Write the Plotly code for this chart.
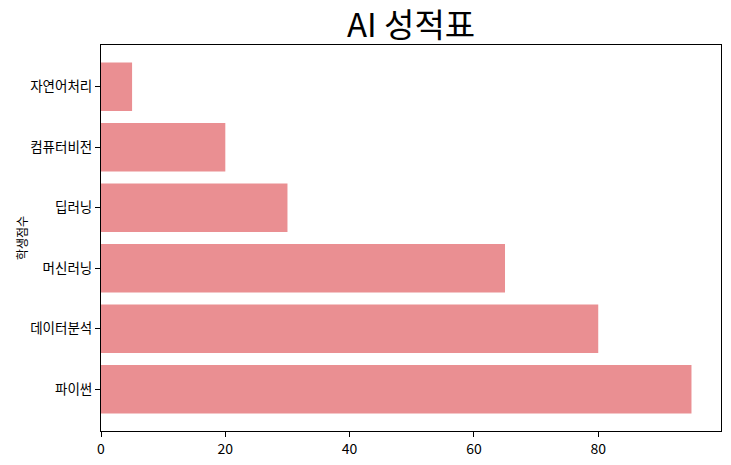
import plotly.graph_objects as go

categories = ["파이썬", "데이터분석", "머신러닝", "딥러닝", "컴퓨터비전", "자연어처리"]
scores = [95, 80, 65, 30, 20, 5]
x_ticks = [0, 20, 40, 60, 80]

FONT = "Noto Sans CJK KR"
positions = list(range(len(categories)))

fig = go.Figure(go.Bar(
    x=scores, y=positions, orientation="h", width=0.8,
    marker=dict(color="#EA8F92", line=dict(width=0)),
    hoverinfo="skip",
))

fig.update_layout(
    width=731, height=465,
    margin=dict(l=101, r=10, t=45, b=34, autoexpand=False),
    plot_bgcolor="white", paper_bgcolor="white",
    font=dict(family=FONT, size=13, color="black"),
    showlegend=False,
    title=dict(text="AI 성적표", x=(101 + 721) / 2 / 731, xanchor="center",
               y=1 - 25 / 465, yanchor="middle",
               font=dict(family=FONT, size=33, color="black")),
    annotations=[dict(
        text="학생점수", textangle=-90, xref="paper", yref="paper",
        x=-80 / 620, y=0.5, xanchor="center", yanchor="middle",
        showarrow=False, font=dict(family=FONT, size=12, color="black"),
    )],
)
fig.update_xaxes(
    range=[0, 99.75], tickvals=x_ticks, ticktext=[str(v) for v in x_ticks],
    showgrid=False, zeroline=False, showline=True, mirror=True,
    linecolor="black", linewidth=1, ticks="outside", ticklen=5,
    tickcolor="black", tickfont=dict(family=FONT, size=14), automargin=False,
)
fig.update_yaxes(
    range=[-0.69, 5.69], tickvals=positions, ticktext=categories,
    showgrid=False, zeroline=False, showline=True, mirror=True,
    linecolor="black", linewidth=1, ticks="outside", ticklen=5,
    tickcolor="black", tickfont=dict(family=FONT, size=13.5), automargin=False,
)

fig.write_html(
    "out.html",
    config={"displayModeBar": False},
    post_script="document.body.style.margin='0';document.body.style.overflow='hidden';",
)
